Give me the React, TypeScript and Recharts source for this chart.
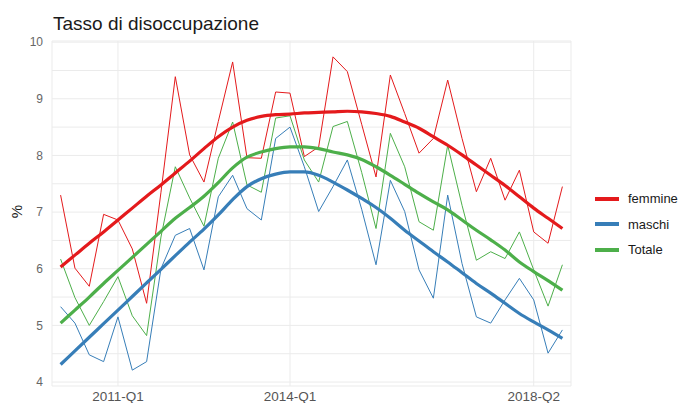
import { LineChart, Line, XAxis, YAxis, CartesianGrid } from 'recharts'

const quarters = [
  '2010-Q1', '2010-Q2', '2010-Q3', '2010-Q4',
  '2011-Q1', '2011-Q2', '2011-Q3', '2011-Q4',
  '2012-Q1', '2012-Q2', '2012-Q3', '2012-Q4',
  '2013-Q1', '2013-Q2', '2013-Q3', '2013-Q4',
  '2014-Q1', '2014-Q2', '2014-Q3', '2014-Q4',
  '2015-Q1', '2015-Q2', '2015-Q3', '2015-Q4',
  '2016-Q1', '2016-Q2', '2016-Q3', '2016-Q4',
  '2017-Q1', '2017-Q2', '2017-Q3', '2017-Q4',
  '2018-Q1', '2018-Q2', '2018-Q3', '2018-Q4',
]

// valori trimestrali
const femmine = [
  7.30, 6.01, 5.69, 6.96, 6.86, 6.35, 5.39, 7.35, 9.39, 8.01, 7.53, 8.60,
  9.65, 7.96, 7.95, 9.12, 9.10, 7.98, 8.15, 9.74, 9.48, 8.55, 7.62, 9.42,
  8.74, 8.04, 8.30, 9.33, 8.30, 7.36, 7.95, 7.21, 7.74, 6.65, 6.45, 7.45,
]
const maschi = [
  5.33, 5.04, 4.48, 4.36, 5.15, 4.21, 4.36, 6.00, 6.59, 6.71, 5.98, 7.27,
  7.65, 7.06, 6.86, 8.30, 8.50, 7.80, 7.01, 7.45, 7.92, 7.05, 6.07, 7.56,
  7.01, 5.98, 5.48, 7.30, 6.09, 5.15, 5.04, 5.45, 5.83, 5.45, 4.51, 4.92,
]
const totale = [
  6.17, 5.49, 5.00, 5.42, 5.86, 5.17, 4.82, 6.56, 7.80, 7.25, 6.75, 7.95,
  8.59, 7.48, 7.35, 8.66, 8.70, 7.92, 7.53, 8.51, 8.60, 7.70, 6.71, 8.39,
  7.80, 6.83, 6.68, 8.18, 7.12, 6.15, 6.30, 6.18, 6.65, 5.98, 5.34, 6.07,
]

// curve di tendenza (loess)
const femmineTrend = [
  6.03, 6.24, 6.45, 6.65, 6.86, 7.07, 7.28, 7.48, 7.69, 7.90, 8.12, 8.33,
  8.50, 8.62, 8.69, 8.72, 8.73, 8.75, 8.76, 8.77, 8.78, 8.77, 8.74, 8.69,
  8.59, 8.48, 8.33, 8.18, 8.01, 7.83, 7.65, 7.47, 7.27, 7.07, 6.89, 6.71,
]
const maschiTrend = [
  4.31, 4.55, 4.79, 5.03, 5.27, 5.51, 5.75, 5.99, 6.23, 6.47, 6.70, 6.95,
  7.22, 7.45, 7.59, 7.67, 7.71, 7.71, 7.65, 7.53, 7.39, 7.24, 7.08, 6.89,
  6.68, 6.49, 6.30, 6.12, 5.93, 5.74, 5.57, 5.39, 5.21, 5.06, 4.92, 4.77,
]
const totaleTrend = [
  5.04, 5.27, 5.50, 5.74, 5.97, 6.20, 6.43, 6.66, 6.89, 7.08, 7.28, 7.52,
  7.78, 7.97, 8.06, 8.12, 8.15, 8.15, 8.12, 8.06, 8.01, 7.93, 7.80, 7.65,
  7.49, 7.33, 7.18, 7.04, 6.86, 6.68, 6.51, 6.33, 6.12, 5.95, 5.79, 5.62,
]

const xTicks = ['2011-Q1', '2014-Q1', '2018-Q2']
const yTicks = [4, 4.5, 5, 5.5, 6, 6.5, 7, 7.5, 8, 8.5, 9, 9.5, 10]

const colors = { femmine: '#E41A1C', maschi: '#377EB8', Totale: '#4DAF4A' }

const data = quarters.map((q, i) => ({
  t: i,
  quarter: q,
  femmine: femmine[i],
  maschi: maschi[i],
  totale: totale[i],
  femmineTrend: femmineTrend[i],
  maschiTrend: maschiTrend[i],
  totaleTrend: totaleTrend[i],
}))

const font = '"Liberation Sans", Arial, sans-serif'

export default function App() {
  return (
    <div style={{ position: 'absolute', left: 0, top: 0, width: 681, height: 403, background: '#fff', fontFamily: font }}>
      <div style={{ position: 'absolute', left: 53, top: 14, fontSize: 19, lineHeight: 1, color: '#1a1a1a' }}>
        Tasso di disoccupazione
      </div>
      <div
        style={{
          position: 'absolute',
          left: 10,
          top: 204,
          fontSize: 15,
          lineHeight: 1,
          color: '#1a1a1a',
          transform: 'rotate(-90deg)',
        }}
      >
        %
      </div>
      <LineChart
        width={681}
        height={403}
        data={data}
        margin={{ top: 41, right: 110, bottom: 0, left: 0 }}
      >
        <CartesianGrid stroke="#ebebeb" strokeWidth={1} />
        <XAxis
          dataKey="t"
          type="number"
          domain={[-0.6, 35.6]}
          ticks={xTicks.map((q) => quarters.indexOf(q))}
          tickFormatter={(v: number) => quarters[v]}
          tickLine={false}
          axisLine={false}
          tickSize={0}
          tickMargin={5}
          height={17}
          interval={0}
          tick={{ fontSize: 13.5, fill: '#555', fontFamily: font }}
        />
        <YAxis
          type="number"
          domain={[3.93, 10.02]}
          ticks={yTicks}
          interval={0}
          tickFormatter={(v: number) => (Number.isInteger(v) ? String(v) : '')}
          tickLine={false}
          axisLine={false}
          tickSize={0}
          tickMargin={9}
          width={52}
          tick={{ fontSize: 12, fill: '#666', fontFamily: font }}
        />
        <Line type="linear" dataKey="femmine" stroke={colors.femmine} strokeWidth={1} dot={false} isAnimationActive={false} />
        <Line type="linear" dataKey="maschi" stroke={colors.maschi} strokeWidth={1} dot={false} isAnimationActive={false} />
        <Line type="linear" dataKey="totale" stroke={colors.Totale} strokeWidth={1} dot={false} isAnimationActive={false} />
        <Line type="monotone" dataKey="femmineTrend" stroke={colors.femmine} strokeWidth={3.2} dot={false} isAnimationActive={false} />
        <Line type="monotone" dataKey="maschiTrend" stroke={colors.maschi} strokeWidth={3.2} dot={false} isAnimationActive={false} />
        <Line type="monotone" dataKey="totaleTrend" stroke={colors.Totale} strokeWidth={3.2} dot={false} isAnimationActive={false} />
      </LineChart>
      <div style={{ position: 'absolute', left: 595, top: 186 }}>
        {(['femmine', 'maschi', 'Totale'] as const).map((name) => (
          <div key={name} style={{ display: 'flex', alignItems: 'center', height: 25.5 }}>
            <div style={{ width: 24, height: 4, background: colors[name] }} />
            <span style={{ marginLeft: 9, fontSize: 13, color: '#1a1a1a' }}>{name}</span>
          </div>
        ))}
      </div>
    </div>
  )
}
